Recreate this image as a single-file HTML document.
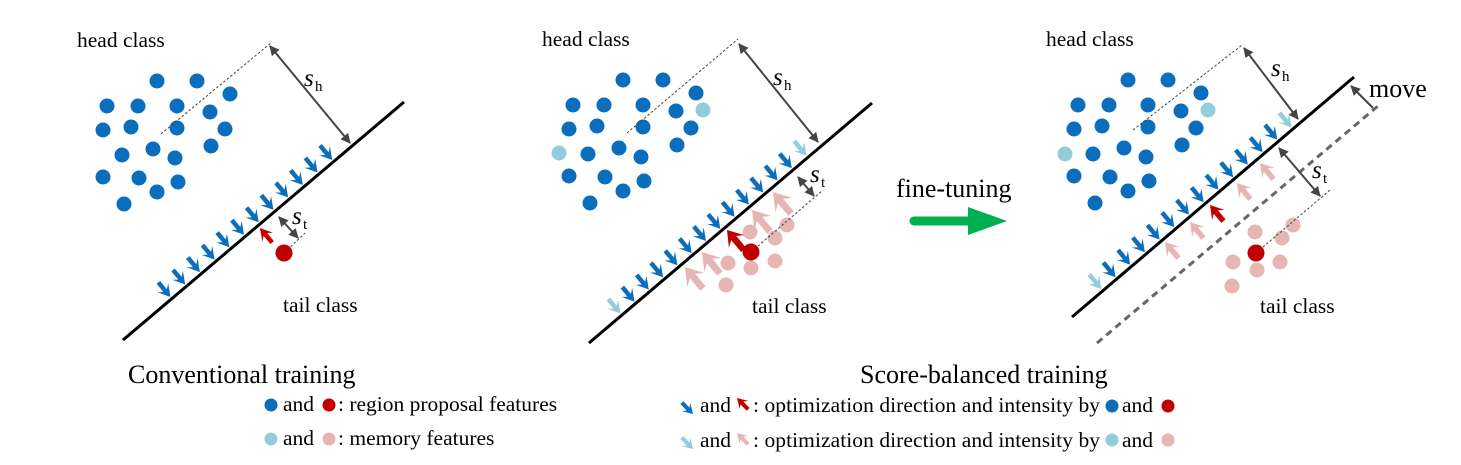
<!DOCTYPE html>
<html><head><meta charset="utf-8"><style>
html,body{margin:0;padding:0;background:#fff}
svg{display:block}
text{font-family:"Liberation Serif",serif;fill:#000}
</style></head><body>
<svg id="s" width="1461" height="465" viewBox="0 0 1461 465" xmlns="http://www.w3.org/2000/svg">
<defs>
<marker id="ah" viewBox="0 0 10 10" refX="9" refY="5" markerWidth="5" markerHeight="5" orient="auto-start-reverse"><path d="M0,0 L10,5 L0,10 z" fill="#444"/></marker>
</defs>
<g id="g"></g>
<text x="77" y="47" font-size="21.5">head class</text>
<text x="542" y="46" font-size="21.5">head class</text>
<text x="1046" y="46" font-size="21.5">head class</text>
<text x="283" y="312" font-size="21.5">tail class</text>
<text x="752" y="313" font-size="21.5">tail class</text>
<text x="1260" y="313" font-size="21.5">tail class</text>
<text x="304" y="86" font-size="25" font-style="italic">s</text><text x="315" y="91" font-size="15">h</text>
<text x="773" y="85" font-size="25" font-style="italic">s</text><text x="784" y="90" font-size="15">h</text>
<text x="1271" y="76" font-size="25" font-style="italic">s</text><text x="1282" y="81" font-size="15">h</text>
<text x="292" y="224" font-size="25" font-style="italic">s</text><text x="303" y="229" font-size="15">t</text>
<text x="810" y="182" font-size="25" font-style="italic">s</text><text x="821" y="187" font-size="15">t</text>
<text x="1312" y="178" font-size="25" font-style="italic">s</text><text x="1323" y="183" font-size="15">t</text>
<text x="1369" y="97" font-size="26">move</text>
<text x="896" y="197" font-size="26">fine-tuning</text>
<text x="128" y="383" font-size="26">Conventional training</text>
<text x="860" y="383" font-size="26">Score-balanced training</text>
<text x="283" y="411" font-size="21.5">and</text><text x="338" y="411" font-size="21.5">: region proposal features</text>
<text x="283" y="445" font-size="21.5">and</text><text x="338" y="445" font-size="21.5">: memory features</text>
<text x="700" y="412" font-size="21.5">and</text><text x="753" y="412" font-size="21.5" textLength="347" lengthAdjust="spacing">: optimization direction and intensity by</text><text x="1122" y="412" font-size="21.5">and</text>
<text x="700" y="447" font-size="21.5">and</text><text x="753" y="447" font-size="21.5" textLength="347" lengthAdjust="spacing">: optimization direction and intensity by</text><text x="1122" y="447" font-size="21.5">and</text>
</svg>
<script>
var NS="http://www.w3.org/2000/svg",G=document.getElementById("g");
function el(t,a){var e=document.createElementNS(NS,t);for(var k in a)e.setAttribute(k,a[k]);G.appendChild(e);return e;}
var BL="#0a6ebd",LB="#92cddb",RD="#c00000",PK="#e6b6b4";
function dot(x,y,c,r){el("circle",{cx:x,cy:y,r:r||7.5,fill:c});}
function arrow(tx,ty,dx,dy,len,hw,hl,sw,c){
 var nx=-dy,ny=dx;
 var bx=tx-dx*hl,by=ty-dy*hl;
 el("line",{x1:tx-dx*len,y1:ty-dy*len,x2:tx-dx*hl*0.5,y2:ty-dy*hl*0.5,stroke:c,"stroke-width":sw});
 el("polygon",{points:[tx,ty,bx+nx*hw,by+ny*hw,tx-dx*hl*0.55,ty-dy*hl*0.55,bx-nx*hw,by-ny*hw].join(" "),fill:c});
}
var D=[0.64,0.768],U=[-0.64,-0.768];
function lineY(x0,y0,x1,y1,x){return y0+(x-x0)*(y1-y0)/(x1-x0);}
var H=[[157,81],[197,81],[230,94],[107,106],[138,106],[177,106],[210,112],[103,130],[131,127],[177,128],[225,129],[122,155],[153,149],[175,158],[211,146],[103,177],[139,178],[178,182],[157,192],[124,204]];
[[0,0],[466,-1],[971,-1]].forEach(function(o){H.forEach(function(p){dot(p[0]+o[0],p[1]+o[1],BL);});});
dot(703,110,LB);dot(559,153,LB);dot(1208,110,LB);dot(1065,154,LB);
[[750,232],[787,225],[775,238],[728,263],[751,268],[775,261],[726,285]].forEach(function(p){dot(p[0],p[1],PK);});
[[1293,225],[1282,238],[1255,232],[1233,262],[1280,262],[1257,270],[1232,286]].forEach(function(p){dot(p[0],p[1],PK);});
function dl(a,b,c,d,w,da,col){el("line",{x1:a,y1:b,x2:c,y2:d,stroke:col||"#444","stroke-width":w||1,"stroke-dasharray":da||"2.5,2"});}
dl(161,134,272,42);dl(284,253,305,233);
dl(627,133,738,39);dl(751,252,823,190);
dl(1133,130,1242,45);dl(1256,253,1330,190);
dl(1097,343,1378,106,3,"7,5","#666");
el("line",{x1:123,y1:340,x2:404,y2:102,stroke:"#000","stroke-width":3});
el("line",{x1:589,y1:343,x2:872,y2:103,stroke:"#000","stroke-width":3});
el("line",{x1:1072,y1:317,x2:1354,y2:77,stroke:"#000","stroke-width":3});
function da(a,b,c,d,single){var l=el("line",{x1:a,y1:b,x2:c,y2:d,stroke:"#444","stroke-width":2,"marker-end":"url(#ah)"});if(!single)l.setAttribute("marker-start","url(#ah)");}
da(270,46,350,143);da(279,217,298,238);
da(739,44,818,142);da(798,177,814,196);
da(1244,48,1298,119);da(1279,148,1320,196);
da(1373,108,1351,86,true);
function row(x0,y0,x1,y1,xs,c){xs.forEach(function(x){var y=lineY(x0,y0,x1,y1,x);arrow(x-1.5,y-1.5,D[0],D[1],19,7,12,4.5,c);});}
var a=[];for(var i=0;i<12;i++)a.push(172+i*14.7);row(123,340,404,102,a,BL);
a=[];for(i=0;i<12;i++)a.push(636+i*14.3);row(589,343,872,103,a,BL);row(589,343,872,103,[622,808],LB);
a=[];for(i=0;i<12;i++)a.push(1117+i*14.7);row(1072,317,1354,77,a,BL);row(1072,317,1354,77,[1103,1293],LB);
arrow(260,228,U[0],U[1],19,7,12,4.5,RD);
[[773,192],[752,210],[702,252],[685,267]].forEach(function(p){arrow(p[0],p[1],U[0],U[1],28,11,17,7,PK);});
arrow(727,230,U[0],U[1],26,10,15,6.5,RD);
[[1260,163],[1237,183],[1190,222],[1165,242]].forEach(function(p){arrow(p[0],p[1],U[0],U[1],21,8,13,5.5,PK);});
arrow(1210,205,U[0],U[1],21,8,13,5.5,RD);
dot(284,253,RD,8.5);dot(751,252,RD,8.5);dot(1256,253,RD,8.5);
el("line",{x1:914,y1:221,x2:972,y2:221,stroke:"#00b050","stroke-width":9,"stroke-linecap":"round"});
el("polygon",{points:"968,207 1007,221 968,235",fill:"#00b050"});
dot(271,405,BL,6.5);dot(329,405,RD,6.5);dot(271,439,LB,6.5);dot(329,439,PK,6.5);
arrow(693,414,0.7,0.71,16,6,10,4,BL);arrow(737,398,-0.7,-0.71,16,6,10,4,RD);
arrow(693,449,0.7,0.71,16,6,10,4,LB);arrow(737,433,-0.7,-0.71,16,6,10,4,PK);
dot(1112,406,BL,6.5);dot(1168,406,RD,6.5);dot(1112,440,LB,6.5);dot(1168,440,PK,6.5);
</script>
</body></html>
